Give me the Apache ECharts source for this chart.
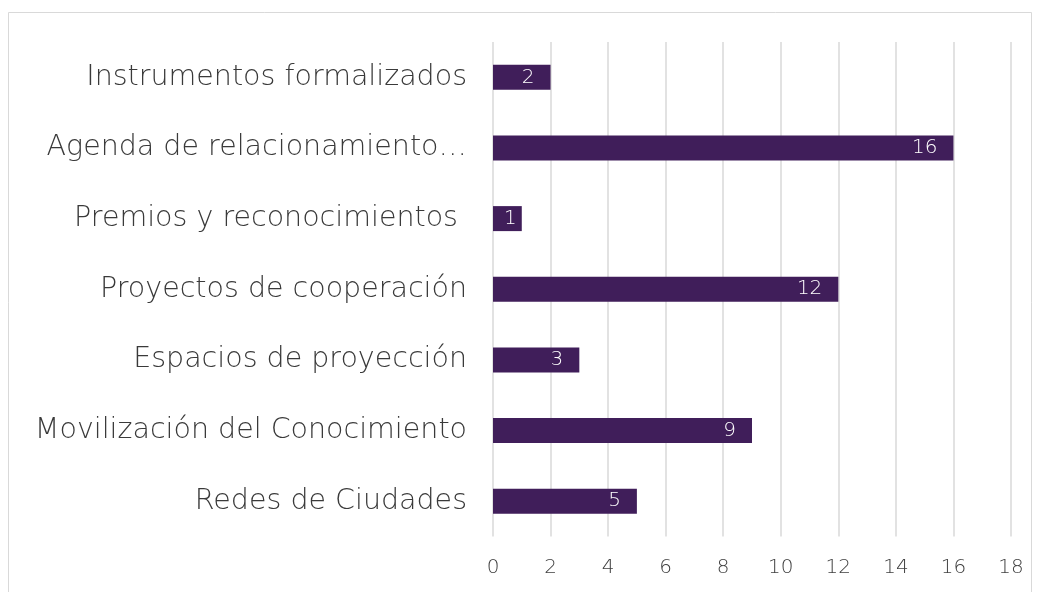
<!DOCTYPE html>
<html>
<head>
<meta charset="utf-8">
<script src="https://cdn.jsdelivr.net/npm/echarts@6/dist/echarts.min.js"></script>
<style>
  html, body { margin: 0; padding: 0; background: #fff; }
  #chart { width: 1040px; height: 592px; }
</style>
</head>
<body>
<div id="chart"></div>
<script>
// datos (de arriba hacia abajo)
const categorias = [
    'Instrumentos formalizados',
    'Agenda de relacionamiento…',
    'Premios y reconocimientos ',
    'Proyectos de cooperación',
    'Espacios de proyección',
    'Movilización del Conocimiento',
    'Redes de Ciudades'
];
const valores = [2, 16, 1, 12, 3, 9, 5];
const ticksX = [0, 2, 4, 6, 8, 10, 12, 14, 16, 18];

const fuente = "'DejaVu Sans', sans-serif";
const chart = echarts.init(document.getElementById('chart'));

// la etiqueta de una barra muy corta queda pegada al final
const datosBarras = valores.map(function (v) {
    return { value: v, label: { distance: v <= 1 ? 5 : 16 } };
});

const option = {
    animation: false,
    backgroundColor: '#fff',
    graphic: [{
        type: 'rect',
        shape: { x: 8.5, y: 12.5, width: 1023, height: 620 },
        style: { fill: 'none', stroke: '#d9d9d9', lineWidth: 1 },
        silent: true
    }],
    grid: { left: 493, right: 29, top: 42, bottom: 55.5, containLabel: false },
    xAxis: {
        type: 'value',
        min: ticksX[0],
        max: ticksX[ticksX.length - 1],
        interval: 2,
        axisLine: { show: false },
        axisTick: { show: false },
        splitLine: { lineStyle: { color: '#d9d9d9', width: 1.5 } },
        axisLabel: { color: '#404040', fontSize: 20, fontWeight: 200, fontFamily: fuente, margin: 21 }
    },
    yAxis: {
        type: 'category',
        inverse: true,
        data: categorias,
        axisLine: { show: false },
        axisTick: { show: false },
        axisLabel: { color: '#3a3a3a', fontSize: 28.5, fontWeight: 200, fontFamily: fuente, margin: 26 }
    },
    series: [{
        type: 'bar',
        data: datosBarras,
        barWidth: 25,
        itemStyle: { color: '#401e5a' },
        label: {
            show: true,
            position: 'insideRight',
            distance: 16,
            color: '#fff',
            fontSize: 20,
            fontWeight: 200,
            fontFamily: fuente
        }
    }]
};

chart.setOption(option);
</script>
</body>
</html>
